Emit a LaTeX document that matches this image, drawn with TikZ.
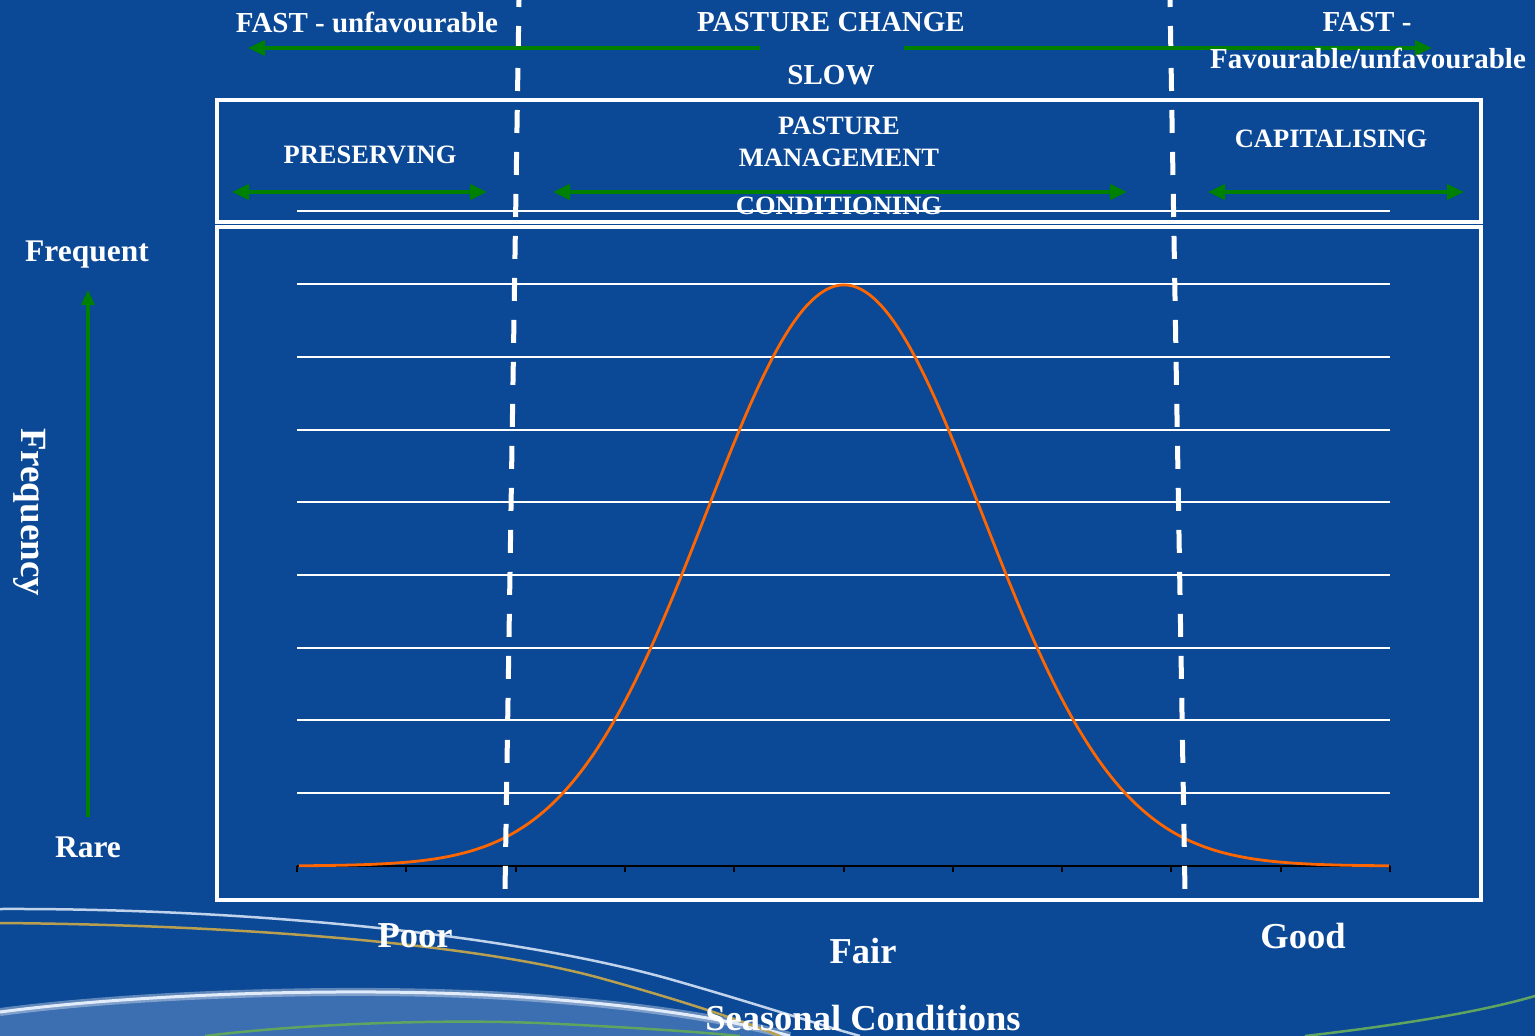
\documentclass[tikz,border=0pt]{standalone}
\usepackage{fontspec}
\setmainfont{Liberation Serif}
\usetikzlibrary{arrows.meta}
\definecolor{bg}{RGB}{11,72,150}
\definecolor{garr}{RGB}{0,128,0}
\definecolor{curvec}{RGB}{255,102,0}
\definecolor{band}{RGB}{60,110,178}
\definecolor{gold}{RGB}{185,160,80}
\definecolor{swgreen}{RGB}{95,165,95}
\definecolor{swwhite}{RGB}{225,235,250}
\tikzset{
  lab/.style={text=white, font=\bfseries\fontsize{29}{33}\selectfont, inner sep=0pt},
  boxlab/.style={text=white, font=\bfseries\fontsize{26.5}{32}\selectfont, inner sep=0pt, align=center},
  axlab/.style={text=white, font=\bfseries\fontsize{31.5}{36}\selectfont, inner sep=0pt},
  condlab/.style={text=white, font=\bfseries\fontsize{36.5}{40}\selectfont, inner sep=0pt},
  frame/.style={draw=white, line width=4pt},
  grid/.style={draw=white, line width=1.1pt},
  divider/.style={draw=white, line width=5pt, dash pattern=on 23pt off 19pt, dash phase=16pt},
  garrow/.style={draw=garr, line width=4pt, -{Triangle[length=17pt,width=15pt]}},
  gdarrow/.style={draw=garr, line width=4pt, {Triangle[length=17pt,width=15pt]}-{Triangle[length=17pt,width=15pt]}},
}
\begin{document}
\begin{tikzpicture}[x=1pt,y=-1pt]
\fill[bg] (0,0) rectangle (1535,1036);
\useasboundingbox (0,0) rectangle (1535,1036);

% decorative swooshes
\fill[band] (0,1012) .. controls (150,992) and (400,985) .. (560,1000)
  .. controls (660,1008) and (740,1022) .. (790,1036) -- (0,1036) -- cycle;
\draw[white, opacity=0.35, line width=8pt] (0,1012) .. controls (150,992) and (400,985) .. (560,1000)
  .. controls (660,1008) and (740,1022) .. (790,1036);
\draw[swwhite, line width=3pt] (0,1012) .. controls (150,992) and (400,985) .. (560,1000)
  .. controls (660,1008) and (740,1022) .. (790,1036);
\draw[swgreen, line width=2.5pt] (205,1036) .. controls (300,1024) and (450,1018) .. (560,1024)
  .. controls (640,1028) and (700,1032) .. (740,1036);
\draw[gold, line width=2.5pt] (0,923) .. controls (250,925) and (480,945) .. (600,978)
  .. controls (680,1000) and (740,1020) .. (780,1036);
\draw[swwhite, opacity=0.85, line width=2.5pt] (0,909) .. controls (250,908) and (520,935) .. (680,982)
  .. controls (760,1005) and (820,1025) .. (860,1036);
\draw[swgreen, line width=2.5pt] (1305,1036) .. controls (1400,1025) and (1480,1012) .. (1535,996);

% frames
\draw[frame] (217,100) rectangle (1481,222);
\draw[frame] (217,227) rectangle (1481,900);

% grid lines
\foreach \gy in {211,284,357,430,502,575,648,720,793}
  \draw[grid] (297,\gy) -- (1390,\gy);

% axis with ticks
\draw[black, line width=2.5pt] (297,866) -- (1390,866);
\foreach \k in {0,...,10}
  \draw[black, line width=2pt] ({297+109.3*\k},866) -- ({297+109.3*\k},872);

% bell curve
\draw[curvec, line width=2.8pt, smooth, samples=160, domain=-3.95:3.95]
  plot ({844+138*\x},{866-581*exp(-(\x)^2/2)});

% dashed dividers
\coordinate (dLt) at (519,0);
\coordinate (dLb) at (505,891);
\coordinate (dRt) at (1170,0);
\coordinate (dRb) at (1185,891);
\draw[divider] (dLt) -- (dLb);
\draw[divider] (dRt) -- (dRb);

% green arrows
\coordinate (tLs) at (760,48);
\coordinate (tLe) at (248,48);
\coordinate (tRs) at (904,48);
\coordinate (tRe) at (1432,48);
\draw[garrow] (tLs) -- (tLe);
\draw[garrow] (tRs) -- (tRe);
\coordinate (p1) at (232,192);
\coordinate (p2) at (487,192);
\coordinate (m1) at (553,192);
\coordinate (m2) at (1127,192);
\coordinate (c1) at (1208,192);
\coordinate (c2) at (1464,192);
\draw[gdarrow] (p1) -- (p2);
\draw[gdarrow] (m1) -- (m2);
\draw[gdarrow] (c1) -- (c2);
\coordinate (vB) at (88,817);
\coordinate (vT) at (88,290);
\draw[draw=garr, line width=3.5pt, -{Triangle[length=15pt,width=13pt]}] (vB) -- (vT);

% labels
\node[lab] (fastL) at (367,22) {FAST - unfavourable};
\node[lab] (pchange) at (831,22) {PASTURE CHANGE};
\node[lab] (fastR) at (1367,22) {FAST -};
\node[lab] (favun) at (1368,58) {Favourable/unfavourable};
\node[lab] (slow) at (831,75) {SLOW};
\node[boxlab] (pres) at (370,155) {PRESERVING};
\node[boxlab] (pmgmt) at (839,142) {PASTURE\\MANAGEMENT};
\node[boxlab] (cond) at (839,206) {CONDITIONING};
\node[boxlab] (capi) at (1331,139) {CAPITALISING};
\node[axlab] (freq) at (87,255) {Frequent};
\node[axlab] (rare) at (88,847) {Rare};
\node[text=white, font=\bfseries\fontsize{37}{40}\selectfont, inner sep=0pt, rotate=-90] (frequency) at (30,512) {Frequency};
\node[condlab] (poor) at (415,936) {Poor};
\node[condlab] (fair) at (863,951) {Fair};
\node[condlab] (good) at (1303,936) {Good};
\node[condlab] (seas) at (863,1018) {Seasonal Conditions};
\end{tikzpicture}
\end{document}
